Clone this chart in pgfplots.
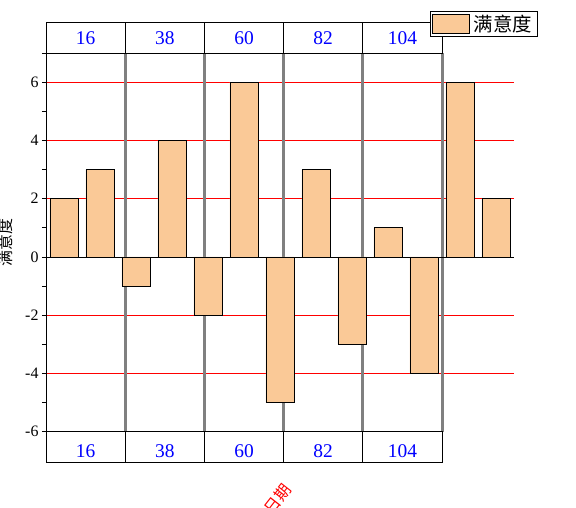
\documentclass[border=0pt]{standalone}
\usepackage{pgfplots}
\pgfplotsset{compat=1.18}
\usepackage{fontspec}
\setmainfont{Liberation Serif}
\newfontfamily\cjk{Noto Sans CJK SC}
\definecolor{barfill}{RGB}{250,201,151}
\definecolor{gline}{RGB}{128,128,128}
\pgfplotsset{mylegend/.style={legend image code/.code={\draw[#1] (0bp,-9.5bp) rectangle (37bp,9.5bp);}}}
\begin{document}
\begin{tikzpicture}
\useasboundingbox (0,0) rectangle (576bp,508bp);
\begin{axis}[
  at={(46bp,76.3bp)}, anchor=south west,
  scale only axis, width=468bp, height=378.7bp,
  xmin=0.5, xmax=13.5, ymin=-6, ymax=7,
  clip=false,
  axis line style={draw=none},
  xtick={1.6,3.8,6.0,8.2,10.4},
  xticklabels={16,38,60,82,104},
  xtick pos=left,
  x tick style={draw=none},
  xticklabel style={font=\fontsize{19.5}{20}\selectfont, text=blue, anchor=center, yshift=-15.2bp},
  ytick={-6,-4,...,6},
  minor ytick={-5,-3,...,7},
  ytick pos=left,
  tick align=outside,
  major tick length=4bp, minor tick length=4bp,
  y tick style={black, line width=0.8bp},
  yticklabel style={font=\fontsize{16}{16}\selectfont},
  /pgf/number format/assume math mode=true,
  ylabel={满意度},
  ylabel style={font=\cjk\fontsize{16}{16}\selectfont, at={(axis description cs:-0.087,0.5)}, anchor=center},
  xlabel={日期},
  xlabel style={font=\cjk\fontsize{16}{16}\selectfont, text=red, at={(axis description cs:0.496,-0.178)}, anchor=center, rotate=52},
  legend style={at={(axis description cs:0.8205,1.111)}, anchor=north west, draw=black, line width=0.8bp, fill=white, font=\cjk\fontsize{19.5}{20}\selectfont, inner xsep=1.5bp, inner ysep=1.5bp, nodes={inner xsep=4bp, inner ysep=2bp}},
]
% red grid lines
\draw[red, line width=0.8bp] (0.5,6) -- (13.5,6);
\draw[red, line width=0.8bp] (0.5,4) -- (13.5,4);
\draw[red, line width=0.8bp] (0.5,2) -- (13.5,2);
\draw[red, line width=0.8bp] (0.5,-2) -- (13.5,-2);
\draw[red, line width=0.8bp] (0.5,-4) -- (13.5,-4);
% gray separators
\draw[gline, line width=3bp] (2.7,-6) -- (2.7,7);
\draw[gline, line width=3bp] (4.9,-6) -- (4.9,7);
\draw[gline, line width=3bp] (7.1,-6) -- (7.1,7);
\draw[gline, line width=3bp] (9.3,-6) -- (9.3,7);
\draw[gline, line width=3bp] (11.5,-6) -- (11.5,7);
\addplot[ybar, bar width=0.78, fill=barfill, draw=black, line width=0.8bp, mylegend]
  coordinates {(1,2) (2,3) (3,-1) (4,4) (5,-2) (6,6) (7,-5) (8,3) (9,-3) (10,1) (11,-4) (12,6) (13,2)};
\addlegendentry{满意度}
% zero line
\draw[black, line width=0.8bp] (0.5,0) -- (13.5,0);
% tables
\draw[black, line width=0.8bp] (0.5,7) rectangle (11.5,8.04);
\draw[black, line width=0.8bp] (0.5,-7.04) rectangle (11.5,-6);
\draw[black, line width=0.8bp] (2.7,7) -- (2.7,8.04) (4.9,7) -- (4.9,8.04) (7.1,7) -- (7.1,8.04) (9.3,7) -- (9.3,8.04);
\draw[black, line width=0.8bp] (2.7,-7.04) -- (2.7,-6) (4.9,-7.04) -- (4.9,-6) (7.1,-7.04) -- (7.1,-6) (9.3,-7.04) -- (9.3,-6);
\draw[black, line width=0.8bp] (0.5,-7.04) -- (0.5,8.04);
\node[text=blue, font=\fontsize{19.5}{20}\selectfont] at (1.6,7.52) {16};
\node[text=blue, font=\fontsize{19.5}{20}\selectfont] at (3.8,7.52) {38};
\node[text=blue, font=\fontsize{19.5}{20}\selectfont] at (6.0,7.52) {60};
\node[text=blue, font=\fontsize{19.5}{20}\selectfont] at (8.2,7.52) {82};
\node[text=blue, font=\fontsize{19.5}{20}\selectfont] at (10.4,7.52) {104};
\end{axis}
\end{tikzpicture}
\end{document}
